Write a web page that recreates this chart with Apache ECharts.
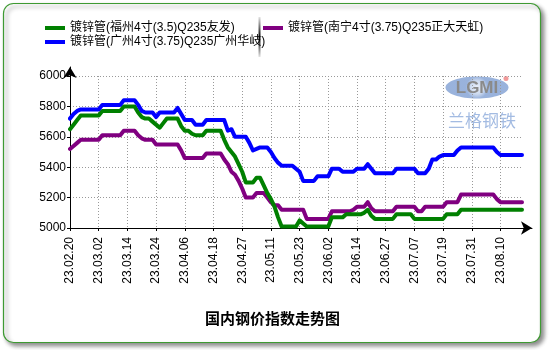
<!DOCTYPE html>
<html>
<head>
<meta charset="utf-8">
<script src="https://cdn.jsdelivr.net/npm/echarts@6/dist/echarts.min.js"></script>
<style>html,body{margin:0;padding:0;background:#fff;}#c{width:550px;height:350px;}</style>
</head>
<body>
<div id="c"></div>
<script>
// trading dates (yy.mm.dd)
var dates = [
 '23.02.20','23.02.21','23.02.22','23.02.23','23.02.24','23.02.27','23.02.28',
 '23.03.01','23.03.02','23.03.03','23.03.06','23.03.07','23.03.08','23.03.09','23.03.10','23.03.13','23.03.14','23.03.15','23.03.16','23.03.17','23.03.20','23.03.21','23.03.22','23.03.23','23.03.24','23.03.27','23.03.28','23.03.29','23.03.30','23.03.31',
 '23.04.03','23.04.04','23.04.06','23.04.07','23.04.10','23.04.11','23.04.12','23.04.13','23.04.14','23.04.17','23.04.18','23.04.19','23.04.20','23.04.21','23.04.23','23.04.24','23.04.25','23.04.26','23.04.27','23.04.28',
 '23.05.04','23.05.05','23.05.06','23.05.08','23.05.09','23.05.10','23.05.11','23.05.12','23.05.15','23.05.16','23.05.17','23.05.18','23.05.19','23.05.22','23.05.23','23.05.24','23.05.25','23.05.26','23.05.29','23.05.30','23.05.31',
 '23.06.01','23.06.02','23.06.05','23.06.06','23.06.07','23.06.08','23.06.09','23.06.12','23.06.13','23.06.14','23.06.15','23.06.16','23.06.19','23.06.20','23.06.21','23.06.25','23.06.26','23.06.27','23.06.28','23.06.29','23.06.30',
 '23.07.03','23.07.04','23.07.05','23.07.06','23.07.07','23.07.10','23.07.11','23.07.12','23.07.13','23.07.14','23.07.17','23.07.18','23.07.19','23.07.20','23.07.21','23.07.24','23.07.25','23.07.26','23.07.27','23.07.28','23.07.31',
 '23.08.01','23.08.02','23.08.03','23.08.04','23.08.07','23.08.08','23.08.09','23.08.10','23.08.11','23.08.14','23.08.15','23.08.16','23.08.17','23.08.18'
];

var nameFuzhou = '镀锌管(福州4寸(3.5)Q235友发)';
var nameGuangzhou = '镀锌管(广州4寸(3.75)Q235广州华岐)';
var nameNanning = '镀锌管(南宁4寸(3.75)Q235正大天虹)';

var fuzhou = [
 5650,5680,5710,5740,5740,5740,5740,5740,5740,5770,5770,5770,5770,5770,5770,5800,5800,5800,5800,5760,
 5730,5720,5720,5700,5680,5660,5690,5720,5720,5720,5720,5670,5640,5640,5620,5610,5610,5610,5640,5640,
 5640,5640,5640,5580,5530,5500,5470,5420,5370,5300,5300,5300,5330,5330,5280,5230,5190,5140,5070,5010,
 5010,5010,5010,5010,5050,5030,5010,5010,5010,5010,5010,5010,5010,5070,5070,5070,5070,5090,5090,5090,
 5090,5090,5100,5120,5080,5060,5060,5060,5060,5060,5060,5090,5090,5090,5090,5090,5060,5060,5060,5060,
 5060,5060,5060,5060,5060,5090,5090,5090,5090,5120,5120,5120,5120,5120,5120,5120,5120,5120,5120,5120,
 5120,5120,5120,5120,5120,5120,5120
];

var guangzhou = [
 5720,5750,5770,5780,5780,5780,5780,5780,5780,5810,5810,5810,5810,5810,5810,5840,5840,5840,5840,5810,
 5770,5760,5760,5760,5730,5760,5760,5760,5760,5760,5790,5750,5710,5710,5710,5680,5680,5680,5710,5710,
 5710,5710,5710,5710,5640,5650,5600,5600,5600,5600,5560,5510,5520,5530,5530,5530,5500,5460,5430,5410,
 5410,5410,5410,5390,5370,5310,5310,5310,5310,5340,5340,5340,5340,5390,5390,5390,5370,5370,5370,5370,
 5390,5390,5390,5420,5390,5360,5360,5360,5360,5360,5360,5390,5390,5390,5390,5390,5390,5360,5360,5360,
 5390,5450,5450,5470,5480,5480,5480,5480,5510,5530,5530,5530,5530,5530,5530,5530,5530,5530,5530,5500,
 5480,5480,5480,5480,5480,5480,5480
];

var nanning = [
 5520,5540,5560,5580,5580,5580,5580,5580,5580,5610,5610,5610,5610,5610,5610,5640,5640,5640,5640,5610,
 5590,5580,5580,5580,5550,5550,5550,5550,5550,5550,5550,5510,5460,5460,5460,5460,5460,5460,5490,5490,
 5490,5490,5490,5450,5420,5370,5350,5310,5260,5200,5200,5200,5230,5230,5230,5200,5170,5150,5150,5120,
 5120,5120,5120,5120,5120,5120,5060,5060,5060,5060,5060,5060,5060,5110,5110,5110,5110,5110,5110,5120,
 5140,5140,5140,5170,5130,5110,5110,5110,5110,5110,5110,5140,5140,5140,5140,5140,5140,5110,5110,5140,
 5140,5140,5140,5140,5140,5170,5170,5170,5170,5220,5220,5220,5220,5220,5220,5220,5220,5220,5220,5190,
 5170,5170,5170,5170,5170,5170,5170
];

var yMin = 5000, yMax = 6000, yStep = 200;
var chartTitle = '国内钢价指数走势图';

var FONT = '"Liberation Sans", Arial, "Noto Sans CJK SC", sans-serif';
var chart = echarts.init(document.getElementById('c'), null, {renderer: 'canvas'});

var option = {
  animation: false,
  backgroundColor: '#ffffff',
  textStyle: {fontFamily: FONT},
  title: {
    text: chartTitle, left: 205, top: 311, padding: 0,
    textStyle: {fontSize: 15, fontWeight: 'bold', color: '#000', fontFamily: '"Noto Sans CJK SC", sans-serif'}
  },
  legend: [
    {
      data: [nameFuzhou, nameGuangzhou], orient: 'vertical', left: 45, top: 21, padding: 0,
      itemGap: 0, itemWidth: 20, itemHeight: 4, icon: 'rect',
      textStyle: {fontSize: 12, color: '#000', lineHeight: 14, fontFamily: FONT}
    },
    {
      data: [nameNanning], orient: 'vertical', left: 263, top: 21, padding: 0,
      itemGap: 0, itemWidth: 20, itemHeight: 4, icon: 'rect',
      textStyle: {fontSize: 12, color: '#000', lineHeight: 14, fontFamily: FONT}
    }
  ],
  grid: [
    {left: 70, right: 28, top: 76, bottom: 122},
    {left: 70, right: 18, top: 67, bottom: 122}
  ],
  xAxis: [
    {
      type: 'category', data: dates, boundaryGap: false, gridIndex: 0,
      axisLine: {show: false},
      axisTick: {show: true, interval: 7, length: 3, lineStyle: {color: '#000'}},
      axisLabel: {interval: 7, rotate: 90, margin: 9, fontSize: 12, color: '#000', fontFamily: FONT},
      splitLine: {show: true, interval: 7, lineStyle: {color: '#999', type: [1, 2], width: 1}}
    },
    {
      type: 'value', gridIndex: 1, min: 0, max: 1,
      axisLine: {show: true, symbol: ['none', 'arrow'], symbolSize: [10, 11], lineStyle: {color: '#000', width: 1}},
      axisTick: {show: false}, axisLabel: {show: false}, splitLine: {show: false}
    }
  ],
  yAxis: [
    {
      type: 'value', gridIndex: 0, min: yMin, max: yMax, interval: yStep,
      axisLine: {show: false},
      axisTick: {show: true, length: 3, lineStyle: {color: '#000'}},
      axisLabel: {margin: 4, fontSize: 12, color: '#000', fontFamily: FONT, formatter: function (v) { return String(v); }},
      splitLine: {show: true, lineStyle: {color: '#999', type: [1, 2], width: 1}}
    },
    {
      type: 'value', gridIndex: 1, min: 0, max: 1,
      axisLine: {show: true, symbol: ['none', 'arrow'], symbolSize: [10, 11], lineStyle: {color: '#000', width: 1}},
      axisTick: {show: false}, axisLabel: {show: false}, splitLine: {show: false}
    }
  ],
  series: [
    {name: nameNanning, type: 'line', data: nanning, xAxisIndex: 0, yAxisIndex: 0, showSymbol: false, symbol: 'none', z: 2,
     color: '#800080', lineStyle: {width: 4, color: '#800080', join: 'round', cap: 'round'}},
    {name: nameFuzhou, type: 'line', data: fuzhou, xAxisIndex: 0, yAxisIndex: 0, showSymbol: false, symbol: 'none', z: 3,
     color: '#008000', lineStyle: {width: 4, color: '#008000', join: 'round', cap: 'round'}},
    {name: nameGuangzhou, type: 'line', data: guangzhou, xAxisIndex: 0, yAxisIndex: 0, showSymbol: false, symbol: 'none', z: 4,
     color: '#0000ff', lineStyle: {width: 4, color: '#0000ff', join: 'round', cap: 'round'}}
  ],
  graphic: [
    {
      type: 'rect', z: -10, silent: true,
      shape: {x: 3.5, y: 3.5, width: 537, height: 339, r: 10},
      style: {fill: '#fff', stroke: '#3e9a32', lineWidth: 1.2,
              shadowBlur: 4, shadowOffsetX: 3, shadowOffsetY: 3, shadowColor: 'rgba(0,0,0,0.45)'}
    },
    {
      type: 'line', z: 5, silent: true,
      shape: {x1: 259.5, y1: 17, x2: 259.5, y2: 57},
      style: {lineWidth: 2, stroke: {type: 'linear', x: 0, y: 0, x2: 0, y2: 1, colorStops: [
        {offset: 0, color: 'rgba(0,0,0,0)'}, {offset: 0.5, color: 'rgba(0,0,0,1)'}, {offset: 1, color: 'rgba(0,0,0,0)'}]}}
    },
    {
      type: 'group', z: 1, silent: true,
      children: [
        {type: 'ellipse', shape: {cx: 477, cy: 87.5, rx: 31.5, ry: 11},
         style: {fill: {type: 'radial', x: 0.5, y: 0.5, r: 0.5, colorStops: [
           {offset: 0, color: '#e8eef8'}, {offset: 0.6, color: '#c7d6ee'}, {offset: 1, color: '#8eaad8'}]}, opacity: 0.9}},
        {type: 'text', style: {x: 477, y: 88, text: 'LGMI', align: 'center', verticalAlign: 'middle',
         font: 'bold 17px "Liberation Sans", Arial, sans-serif', fill: '#8a8a8a'}},
        {type: 'circle', shape: {cx: 506, cy: 78.5, r: 2.5}, style: {fill: '#f29a9a'}},
        {type: 'text', style: {x: 482, y: 121, text: '兰格钢铁', align: 'center', verticalAlign: 'middle',
         font: '17px "Noto Sans CJK SC", sans-serif', fill: '#a3bbe2'}}
      ]
    }
  ]
};
chart.setOption(option);
</script>
</body>
</html>
